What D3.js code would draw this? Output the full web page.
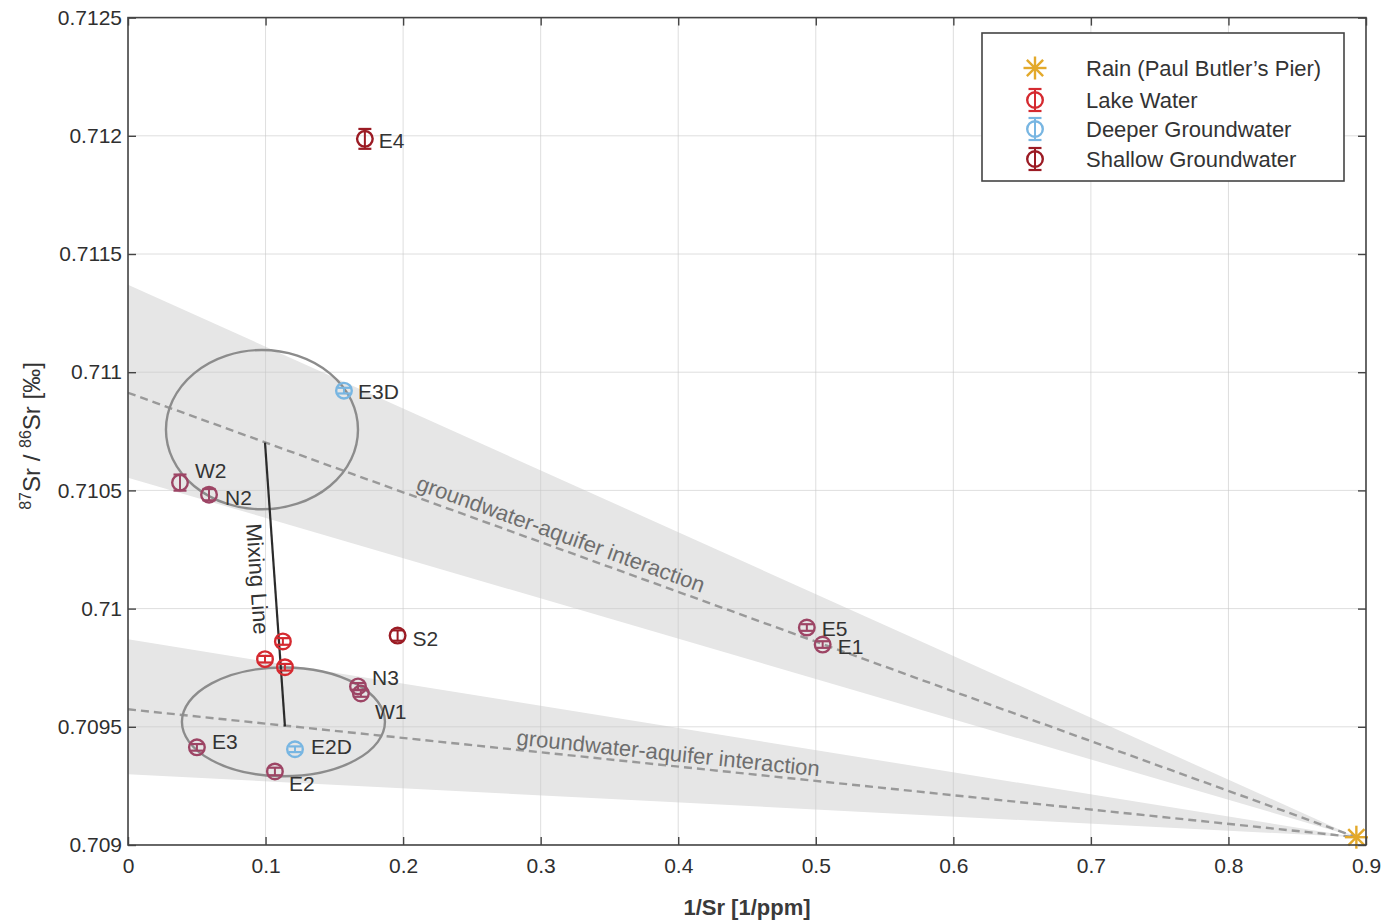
<!DOCTYPE html>
<html>
<head>
<meta charset="utf-8">
<script src="https://cdn.jsdelivr.net/npm/d3@7"></script>
<style>
  body { margin: 0; background: #fff; }
  svg { display: block; font-family: "Liberation Sans", Arial, Helvetica, sans-serif; }
</style>
</head>
<body>
<svg id="chart" width="1384" height="923"></svg>
<script>
// ---- data ----
const xTicks = [0, 0.1, 0.2, 0.3, 0.4, 0.5, 0.6, 0.7, 0.8, 0.9];
const yTicks = [0.709, 0.7095, 0.71, 0.7105, 0.711, 0.7115, 0.712, 0.7125];
const yTickLabels = ["0.709", "0.7095", "0.71", "0.7105", "0.711", "0.7115", "0.712", "0.7125"];

// samples: [label, 1/Sr, 87Sr/86Sr, ratio uncertainty]
const lakeWater = [
  ["", 0.1126, 0.709861, 0.000014],
  ["", 0.0996, 0.709786, 0.000014],
  ["", 0.1141, 0.709752, 0.000014]
];
const deeperGroundwater = [
  ["E3D", 0.1570, 0.710922, 0.000012],
  ["E2D", 0.1214, 0.709405, 0.000012]
];
const shallowGroundwater = [
  ["E4", 0.1722, 0.711987, 0.000042],
  ["S2", 0.1960, 0.709886, 0.000022]
];
const shallowMargin = [
  ["W2", 0.0378, 0.710533, 0.000034],
  ["N2", 0.0589, 0.710482, 0.000024],
  ["N3", 0.1672, 0.709671, 0.000014],
  ["W1", 0.1693, 0.709641, 0.000014],
  ["E5", 0.4935, 0.709920, 0.000014],
  ["E1", 0.5050, 0.709848, 0.000014],
  ["E3", 0.0501, 0.709413, 0.000014],
  ["E2", 0.1068, 0.709311, 0.000016]
];
const rain = [0.893, 0.709033];

// mixing envelopes toward the rain end-member: [x, upper y, lower y]
const upperBandStart = [0, 0.71137, 0.710554];
const lowerBandStart = [0, 0.70987, 0.709299];
const upperTrendStart = [0, 0.710913];
const lowerTrendStart = [0, 0.709574];

// sample clusters: [cx, cy, rx, ry]
const clusterUpper = [0.0974, 0.710757, 0.0698, 0.000337];
const clusterLower = [0.1130, 0.709521, 0.0738, 0.000230];
const mixingLine = [[0.0996, 0.710702], [0.1141, 0.709502]];

const legendItems = ["Rain (Paul Butler\u2019s Pier)", "Lake Water", "Deeper Groundwater", "Shallow Groundwater"];

// ---- layout ----
const svg = d3.select("#chart");
const L = 128, R = 1366, T = 17.6, B = 845;
const x = d3.scaleLinear().domain([0, 0.9]).range([L, R]);
const y = d3.scaleLinear().domain([0.709, 0.7125]).range([B, T]);

const colors = {
  rain: "#e3a92b",
  lake: "#d52a30",
  deep: "#78b6e2",
  shallow: "#9b1b24",
  margin: "#9d4565"
};

const defs = svg.append("defs");
defs.append("clipPath").attr("id", "plotClip")
  .append("rect").attr("x", L).attr("y", T).attr("width", R - L).attr("height", B - T);

const plot = svg.append("g").attr("clip-path", "url(#plotClip)");

// shaded envelopes
const bandColor = "#e6e6e6";
function wedge(start) {
  return [[x(start[0]), y(start[1])], [x(rain[0]), y(rain[1])], [x(start[0]), y(start[2])]];
}
plot.append("path").attr("d", d3.line()(wedge(upperBandStart)) + "Z").attr("fill", bandColor);
plot.append("path").attr("d", d3.line()(wedge(lowerBandStart)) + "Z").attr("fill", bandColor);

// grid
plot.selectAll(".gx").data(xTicks).join("line")
  .attr("x1", d => x(d)).attr("x2", d => x(d)).attr("y1", T).attr("y2", B)
  .attr("stroke", "#c8c8c8").attr("stroke-opacity", 0.6).attr("stroke-width", 1);
plot.selectAll(".gy").data(yTicks).join("line")
  .attr("y1", d => y(d)).attr("y2", d => y(d)).attr("x1", L).attr("x2", R)
  .attr("stroke", "#c8c8c8").attr("stroke-opacity", 0.6).attr("stroke-width", 1);

// trend lines
[upperTrendStart, lowerTrendStart].forEach(s => {
  plot.append("line")
    .attr("x1", x(s[0])).attr("y1", y(s[1])).attr("x2", x(rain[0])).attr("y2", y(rain[1]))
    .attr("stroke", "#999").attr("stroke-width", 2.4).attr("stroke-dasharray", "8,5");
});

// cluster ellipses
[clusterUpper, clusterLower].forEach(c => {
  plot.append("ellipse")
    .attr("cx", x(c[0])).attr("cy", y(c[1]))
    .attr("rx", x(c[0] + c[2]) - x(c[0])).attr("ry", y(c[1]) - y(c[1] + c[3]))
    .attr("fill", "none").attr("stroke", "#8c8c8c").attr("stroke-width", 2.4);
});

// mixing line
plot.append("line")
  .attr("x1", x(mixingLine[0][0])).attr("y1", y(mixingLine[0][1]))
  .attr("x2", x(mixingLine[1][0])).attr("y2", y(mixingLine[1][1]))
  .attr("stroke", "#2b2b2b").attr("stroke-width", 2.2);

// annotation text along the lines
function angleOf(p0, p1) {
  return Math.atan2(p1[1] - p0[1], p1[0] - p0[0]) * 180 / Math.PI;
}
// place text on a segment at fraction t, lifted by `lift` px perpendicular to it
function alongLine(p0, p1, t, lift, label, color) {
  const ang = angleOf(p0, p1);
  const rad = ang * Math.PI / 180;
  const px = p0[0] + (p1[0] - p0[0]) * t + Math.sin(rad) * lift;
  const py = p0[1] + (p1[1] - p0[1]) * t - Math.cos(rad) * lift;
  svg.append("text")
    .attr("transform", `translate(${px},${py}) rotate(${ang})`)
    .attr("text-anchor", "middle").attr("font-size", 22).attr("fill", color)
    .text(label);
}
const rainP = [x(rain[0]), y(rain[1])];
const upA = [x(upperTrendStart[0]), y(upperTrendStart[1])];
const lowA = [x(lowerTrendStart[0]), y(lowerTrendStart[1])];
alongLine(upA, rainP, (556 - upA[0]) / (rainP[0] - upA[0]), 7, "groundwater-aquifer interaction", "#6e6e6e");
alongLine(lowA, rainP, (667 - lowA[0]) / (rainP[0] - lowA[0]), 5, "groundwater-aquifer interaction", "#6e6e6e");

const mlA = [x(mixingLine[0][0]), y(mixingLine[0][1])];
const mlB = [x(mixingLine[1][0]), y(mixingLine[1][1])];
svg.append("text")
  .attr("transform", `translate(${x(0.0887)},${y(0.710123)}) rotate(${angleOf(mlA, mlB)})`)
  .attr("text-anchor", "middle").attr("font-size", 22).attr("fill", "#333")
  .text("Mixing Line");

// sample markers: circle with vertical error bar and caps
function drawMarker(g, px, py, halfPx, color) {
  const cap = 6.5;
  g.append("line").attr("x1", px).attr("x2", px).attr("y1", py - halfPx).attr("y2", py + halfPx)
    .attr("stroke", color).attr("stroke-width", 2);
  [py - halfPx, py + halfPx].forEach(cy => {
    g.append("line").attr("x1", px - cap).attr("x2", px + cap).attr("y1", cy).attr("y2", cy)
      .attr("stroke", color).attr("stroke-width", 2.2);
  });
  g.append("circle").attr("cx", px).attr("cy", py).attr("r", 7.8)
    .attr("fill", "none").attr("stroke", color).attr("stroke-width", 2.4);
}
function drawSeries(rows, color) {
  const g = svg.append("g");
  rows.forEach(r => {
    const px = x(r[1]), py = y(r[2]);
    const half = y(r[2]) - y(r[2] + r[3]);
    drawMarker(g, px, py, half, color);
  });
}
drawSeries(lakeWater, colors.lake);
drawSeries(deeperGroundwater, colors.deep);
drawSeries(shallowGroundwater, colors.shallow);
drawSeries(shallowMargin, colors.margin);

// sample labels
const labelOffsets = {
  E4: [14, 9], S2: [15, 10], E3D: [14, 8], E2D: [16, 5],
  W2: [15, -5], N2: [16, 10], N3: [14, -1], W1: [14, 26],
  E5: [15, 8], E1: [15, 9], E3: [15, 2], E2: [14, 20]
};
[...deeperGroundwater, ...shallowGroundwater, ...shallowMargin].forEach(r => {
  const off = labelOffsets[r[0]] || [12, 6];
  svg.append("text")
    .attr("x", x(r[1]) + off[0]).attr("y", y(r[2]) + off[1])
    .attr("font-size", 21).attr("fill", "#333")
    .text(r[0]);
});

// rain end-member (asterisk)
function drawAsterisk(g, px, py, size, color) {
  for (let k = 0; k < 4; k++) {
    const a = k * Math.PI / 4;
    g.append("line")
      .attr("x1", px - size * Math.cos(a)).attr("y1", py - size * Math.sin(a))
      .attr("x2", px + size * Math.cos(a)).attr("y2", py + size * Math.sin(a))
      .attr("stroke", color).attr("stroke-width", 2.4);
  }
}
drawAsterisk(svg.append("g"), x(rain[0]), y(rain[1]), 11.5, colors.rain);

// axes box with inward ticks
const axisColor = "#444";
svg.append("rect").attr("x", L).attr("y", T).attr("width", R - L).attr("height", B - T)
  .attr("fill", "none").attr("stroke", axisColor).attr("stroke-width", 1.6);

const tl = 8;
const axB = svg.append("g").attr("transform", `translate(0,${B})`)
  .call(d3.axisBottom(x).tickValues(xTicks).tickSizeInner(-tl).tickSizeOuter(0).tickPadding(13)
    .tickFormat(d3.format("~g")));
const axT = svg.append("g").attr("transform", `translate(0,${T})`)
  .call(d3.axisTop(x).tickValues(xTicks).tickSizeInner(-tl).tickSizeOuter(0).tickFormat(""));
const axL = svg.append("g").attr("transform", `translate(${L},0)`)
  .call(d3.axisLeft(y).tickValues(yTicks).tickSizeInner(-tl).tickSizeOuter(0).tickPadding(6)
    .tickFormat((d, i) => yTickLabels[i]));
const axR = svg.append("g").attr("transform", `translate(${R},0)`)
  .call(d3.axisRight(y).tickValues(yTicks).tickSizeInner(-tl).tickSizeOuter(0).tickFormat(""));
[axB, axT, axL, axR].forEach(a => {
  a.select(".domain").remove();
  a.selectAll(".tick line").attr("stroke", axisColor).attr("stroke-width", 1.4);
  a.selectAll(".tick text").attr("fill", "#2f2f2f").attr("font-size", 21)
    .attr("font-family", "\"Liberation Sans\", Arial, sans-serif");
});

// axis titles
svg.append("text")
  .attr("x", (L + R) / 2).attr("y", 915).attr("text-anchor", "middle")
  .attr("font-size", 22).attr("font-weight", "bold").attr("fill", "#3a3a3a")
  .text("1/Sr [1/ppm]");

const yTitle = svg.append("text")
  .attr("transform", `translate(40,436) rotate(-90)`)
  .attr("text-anchor", "middle").attr("font-size", 24).attr("fill", "#333");
yTitle.append("tspan").attr("font-size", 16).attr("dy", -9).text("87");
yTitle.append("tspan").attr("dy", 9).text("Sr / ");
yTitle.append("tspan").attr("font-size", 16).attr("dy", -9).text("86");
yTitle.append("tspan").attr("dy", 9).text("Sr  [\u2030]");

// legend
const lg = svg.append("g").attr("transform", "translate(982,33)");
lg.append("rect").attr("width", 362).attr("height", 148)
  .attr("fill", "#fff").attr("stroke", "#444").attr("stroke-width", 1.6);
const legendRows = [35, 67, 96, 126];
const legendColors = [colors.rain, colors.lake, colors.deep, colors.shallow];
legendItems.forEach((t, i) => {
  const ry = legendRows[i];
  if (i === 0) {
    drawAsterisk(lg, 53, ry, 11.5, legendColors[i]);
  } else {
    drawMarker(lg, 53, ry, 11, legendColors[i]);
  }
  lg.append("text").attr("x", 104).attr("y", ry + 8)
    .attr("font-size", 22).attr("fill", "#333").text(t);
});
</script>
</body>
</html>
